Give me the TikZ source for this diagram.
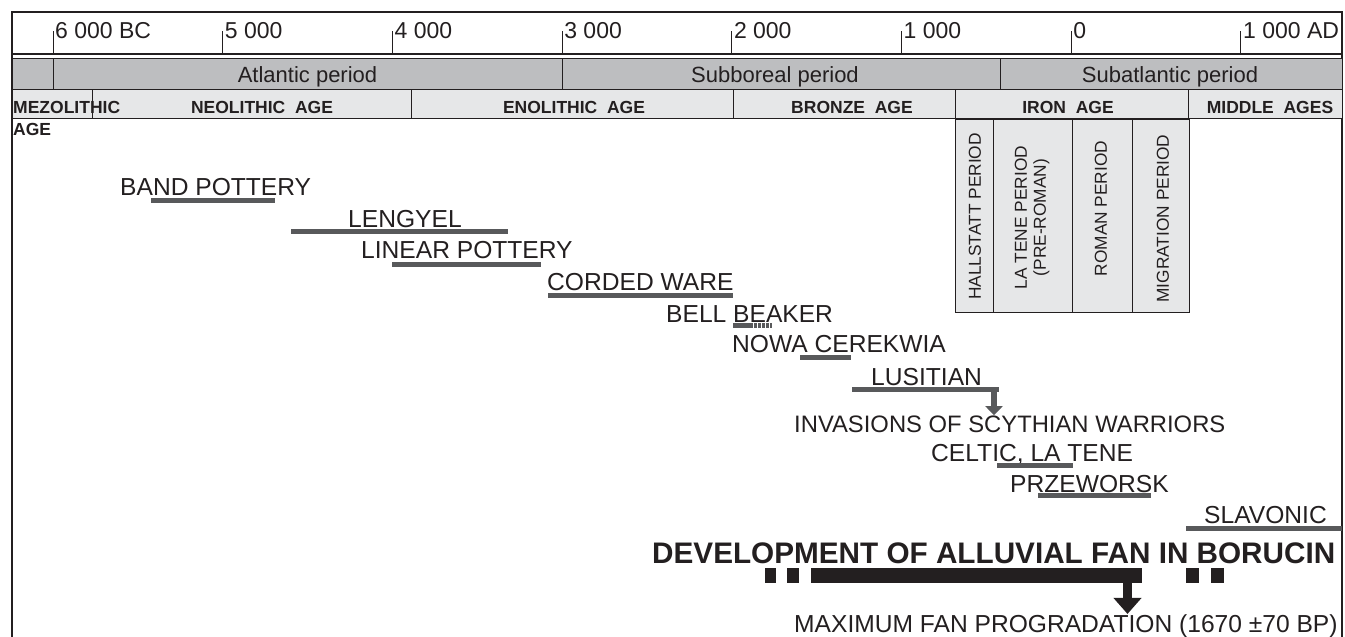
\documentclass[tikz,border=0pt]{standalone}
\usepackage{fontspec}
\setmainfont{Liberation Sans}
\usetikzlibrary{arrows.meta}

\definecolor{bandgray}{RGB}{189,190,192}
\definecolor{agegray}{RGB}{230,231,232}
\definecolor{bargray}{RGB}{88,89,91}
\definecolor{inkblack}{RGB}{35,31,32}

\tikzset{
	yearlabel/.style={anchor=base west, inner sep=0pt, text=inkblack,
					  font=\fontsize{23}{27}\selectfont},
	periodcell/.style={fill=bandgray, draw=inkblack, line width=0.8pt},
	agecell/.style={fill=agegray, draw=inkblack, line width=0.8pt},
	periodlabel/.style={anchor=base, inner sep=0pt, text=inkblack,
						font=\fontsize{22}{26}\selectfont},
	agelabel/.style={anchor=base, inner sep=0pt, text=inkblack,
					 font=\bfseries\fontsize{17.5}{20}\selectfont},
	ironlabel/.style={rotate=90, inner sep=0pt, align=center, text=inkblack,
					  font=\fontsize{17.3}{19}\selectfont},
	culture/.style={anchor=base west, inner sep=0pt, text=inkblack,
					font=\fontsize{24.6}{29}\selectfont},
	epochbar/.style={draw=bargray, line width=5pt},
	fanbar/.style={draw=inkblack, line width=15pt}
}

\begin{document}
\begin{tikzpicture}[x=1pt, y=-1pt]
	\useasboundingbox (0,0) rectangle (1345,637);

	\draw[line width=2pt, draw=inkblack] (12,640) -- (12,12) -- (1342,12) -- (1342,640);
	\draw[line width=2.5pt, draw=inkblack] (12,54) -- (1342,54);
	\foreach \lbl [count=\i from 0] in {6 000 BC, 5 000, 4 000, 3 000, 2 000, 1 000, 0, 1 000 AD}
	{
		\draw[line width=1pt, draw=inkblack] (53+169.7*\i,31) -- (53+169.7*\i,54);
		\node[yearlabel] (year\i) at (55+169.7*\i,38) {\lbl};
	}

	\foreach \a/\b in {12/53, 53/562, 562/1000, 1000/1342}
		\draw[periodcell] (\a,58) rectangle (\b,89);
	\node[periodlabel] (atlantic) at (307.5,82) {Atlantic period};
	\node[periodlabel] (subboreal) at (775,82) {Subboreal period};
	\node[periodlabel] (subatlantic) at (1170,82) {Subatlantic period};

	\foreach \a/\b in {12/92, 92/411, 411/733, 733/955, 955/1188, 1188/1342}
		\draw[agecell] (\a,89) rectangle (\b,118);
	\node[agelabel, anchor=base west] (mezolithic) at (13,113) {MEZOLITHIC};
	\node[agelabel, anchor=base west] (mezoage) at (13,135) {AGE};
	\node[agelabel] (neolithic) at (262,113) {NEOLITHIC\ \ AGE};
	\node[agelabel] (enolithic) at (574,113) {ENOLITHIC\ \ AGE};
	\node[agelabel] (bronze) at (852,113) {BRONZE\ \ AGE};
	\node[agelabel] (iron) at (1068,113) {IRON\ \ AGE};
	\node[agelabel] (middle) at (1270,113) {MIDDLE\ \ AGES};

	\foreach \a/\b in {955/993, 993/1072, 1072/1132, 1132/1189}
		\draw[agecell] (\a,119) rectangle (\b,312);
	\node[ironlabel] (hallstatt) at (975,216.5) {HALLSTATT PERIOD};
	\node[ironlabel] (latene) at (1032,217.5) {LA TENE PERIOD\\(PRE-ROMAN)};
	\node[ironlabel] (roman) at (1101,208.5) {ROMAN PERIOD};
	\node[ironlabel] (migration) at (1163,218.5) {MIGRATION PERIOD};

	\node[culture] (band) at (120,195) {BAND POTTERY};
	\draw[epochbar] (151,200.5) -- (275,200.5);
	\node[culture] (lengyel) at (348,227) {LENGYEL};
	\draw[epochbar] (291,231.5) -- (508,231.5);
	\node[culture] (linear) at (361,258) {LINEAR POTTERY};
	\draw[epochbar] (392,264.5) -- (541,264.5);
	\node[culture] (corded) at (547,290) {CORDED WARE};
	\draw[epochbar] (548,295) -- (733,295);
	\node[culture] (bellbeaker) at (666,322) {BELL BEAKER};
	\draw[epochbar] (733,325.5) -- (750,325.5);
	\draw[epochbar, dash pattern=on 2.5pt off 1.5pt] (750,325.5) -- (772,325.5);
	\node[culture] (nowa) at (732,352) {NOWA CEREKWIA};
	\draw[epochbar] (800,357.5) -- (851,357.5);
	\node[culture] (lusitian) at (871,385) {LUSITIAN};
	\draw[epochbar] (852,389.5) -- (999,389.5);
	\node[culture, font=\fontsize{23.8}{28}\selectfont] (scythian) at (794,432)
		{INVASIONS OF SCYTHIAN WARRIORS};
	\coordinate (lusarrow) at (994,390);
	\draw[epochbar, line width=6pt, -{Triangle[width=17pt, length=9pt]}]
		(lusarrow) -- (lusarrow |- scythian.north);
	\node[culture] (celtic) at (931,461) {CELTIC, LA TENE};
	\draw[epochbar] (997,465) -- (1073,465);
	\node[culture] (przeworsk) at (1010,492) {PRZEWORSK};
	\draw[epochbar] (1038,495.5) -- (1151,495.5);
	\node[culture] (slavonic) at (1204,523) {SLAVONIC};
	\draw[epochbar] (1186,528.5) -- (1342,528.5);

	\node[culture, font=\bfseries\fontsize{29.7}{34}\selectfont] (fan) at (652,563)
		{DEVELOPMENT OF ALLUVIAL FAN IN BORUCIN};
	\foreach \a/\b in {765/776, 787/799, 811/1142, 1186/1199, 1211/1224}
		\draw[fanbar] (\a,575.5) -- (\b,575.5);
	\node[culture, font=\fontsize{24.6}{29}\selectfont] (maxfan) at (794,632)
		{MAXIMUM FAN PROGRADATION (1670 ±70 BP)};
	\coordinate (fanarrow) at (1127.5,583);
	\draw[draw=inkblack, line width=9pt, -{Triangle[width=27pt, length=16pt]}]
		(fanarrow) -- (fanarrow |- maxfan.north);
\end{tikzpicture}
\end{document}
